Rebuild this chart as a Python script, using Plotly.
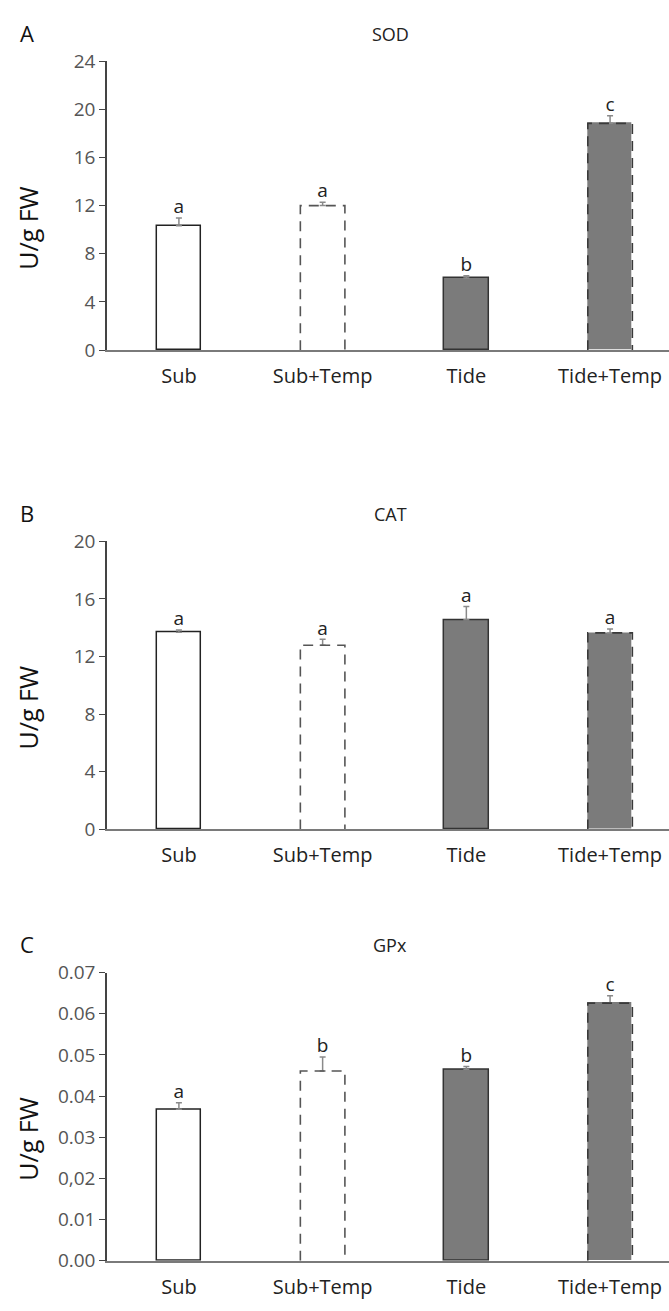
import plotly.graph_objects as go

categories = ["Sub", "Sub+Temp", "Tide", "Tide+Temp"]

sod_mean = [10.33, 12.0, 5.99, 18.83]
sod_err = [0.65, 0.28, 0.19, 0.63]
sod_letters = ["a", "a", "b", "c"]

cat_mean = [13.69, 12.78, 14.55, 13.64]
cat_err = [0.16, 0.42, 0.93, 0.27]
cat_letters = ["a", "a", "a", "a"]

gpx_mean = [0.0368, 0.0461, 0.0465, 0.0626]
gpx_err = [0.0016, 0.0034, 0.0007, 0.0018]
gpx_letters = ["a", "b", "b", "c"]

sod_ticks = [0, 4, 8, 12, 16, 20, 24]
cat_ticks = [0, 4, 8, 12, 16, 20]
gpx_ticks = [0, 0.01, 0.02, 0.03, 0.04, 0.05, 0.06, 0.07]
gpx_ticktext = ["0.00", "0.01", "0,02", "0.03", "0.04", "0.05", "0.06", "0.07"]

panels = [
    dict(letter="A", title="SOD", mean=sod_mean, err=sod_err, letters=sod_letters,
         ticks=sod_ticks, ticktext=[str(t) for t in sod_ticks], yr=[0, 24], dom=[0.7376, 0.9626]),
    dict(letter="B", title="CAT", mean=cat_mean, err=cat_err, letters=cat_letters,
         ticks=cat_ticks, ticktext=[str(t) for t in cat_ticks], yr=[0, 20], dom=[0.3646, 0.5889]),
    dict(letter="C", title="GPx", mean=gpx_mean, err=gpx_err, letters=gpx_letters,
         ticks=gpx_ticks, ticktext=gpx_ticktext, yr=[0, 0.07], dom=[0.0290, 0.2532]),
]

FONT = "Open Sans"
GRAY_FILL = "#7b7b7b"
BAR_W = 0.31
xpos = list(range(len(categories)))
fills = ["white", "white", GRAY_FILL, GRAY_FILL]
outline = ["#222222", "rgba(0,0,0,0)", "#333333", "rgba(0,0,0,0)"]
dashed = [False, True, False, True]

fig = go.Figure()
annotations = []

for i, p in enumerate(panels):
    n = "" if i == 0 else str(i + 1)
    xa, ya = "x" + n, "y" + n
    fig.add_trace(go.Bar(
        x=xpos, y=p["mean"], width=BAR_W, xaxis=xa, yaxis=ya,
        marker=dict(color=fills, line=dict(color=outline, width=1.5)),
        error_y=dict(type="data", symmetric=False, array=p["err"],
                     arrayminus=[0] * len(xpos), color="#8a8a8a", thickness=1.5, width=3),
        showlegend=False, hoverinfo="skip",
    ))
    for j, d in enumerate(dashed):
        if not d:
            continue
        x0, x1 = xpos[j] - BAR_W / 2, xpos[j] + BAR_W / 2
        v = p["mean"][j]
        col = "#555555" if fills[j] == "white" else "#3a3a3a"
        fig.add_trace(go.Scatter(
            x=[x0, x0, x1, x1], y=[0, v, v, 0], mode="lines", xaxis=xa, yaxis=ya,
            line=dict(color=col, width=1.6, dash="10px,7px"),
            showlegend=False, hoverinfo="skip",
        ))
    fig.add_trace(go.Scatter(
        x=xpos, y=[m + e for m, e in zip(p["mean"], p["err"])], mode="text",
        text=p["letters"], textposition="top center", xaxis=xa, yaxis=ya,
        textfont=dict(family=FONT, size=19, color="#222222"),
        showlegend=False, hoverinfo="skip",
    ))
    fig.layout["xaxis" + n] = dict(
        domain=[0.16, 1.0], range=[-0.5, 3.41], anchor=ya,
        tickvals=xpos, ticktext=categories, showline=True, linecolor="#7a7a7a",
        linewidth=2, ticks="", showgrid=False, zeroline=False, ticklabelstandoff=7,
        tickfont=dict(family=FONT, size=20, color="#222222"),
    )
    fig.layout["yaxis" + n] = dict(
        domain=p["dom"], range=p["yr"], anchor=xa,
        tickvals=p["ticks"], ticktext=p["ticktext"], showline=True,
        linecolor="#444444", linewidth=1.5, ticks="outside", ticklen=6,
        tickcolor="#444444", tickwidth=1.2, showgrid=False, zeroline=False,
        tickfont=dict(family=FONT, size=19, color="#555555"),
    )
    top = p["dom"][1]
    bot = p["dom"][0]
    annotations.append(dict(text=p["letter"], x=18 / 669, y=top + 29 / 1311, xref="paper", yref="paper",
                            xanchor="left", yanchor="middle", showarrow=False,
                            font=dict(family=FONT, size=22, color="#111111")))
    annotations.append(dict(text=p["title"], x=390 / 669, y=top + 28 / 1311, xref="paper", yref="paper",
                            xanchor="center", yanchor="middle", showarrow=False,
                            font=dict(family=FONT, size=18, color="#222222")))
    annotations.append(dict(text="U/g FW", x=28 / 669, y=bot + (top - bot) * 0.42, xref="paper", yref="paper",
                            xanchor="center", yanchor="middle", showarrow=False, textangle=-90,
                            font=dict(family=FONT, size=25, color="#111111")))

fig.update_layout(
    width=669, height=1311, margin=dict(l=0, r=0, t=0, b=0),
    paper_bgcolor="white", plot_bgcolor="white", bargap=0,
    annotations=annotations,
)

fig.write_html("out.html", config={"displayModeBar": False},
               post_script="document.body.style.margin='0';")
